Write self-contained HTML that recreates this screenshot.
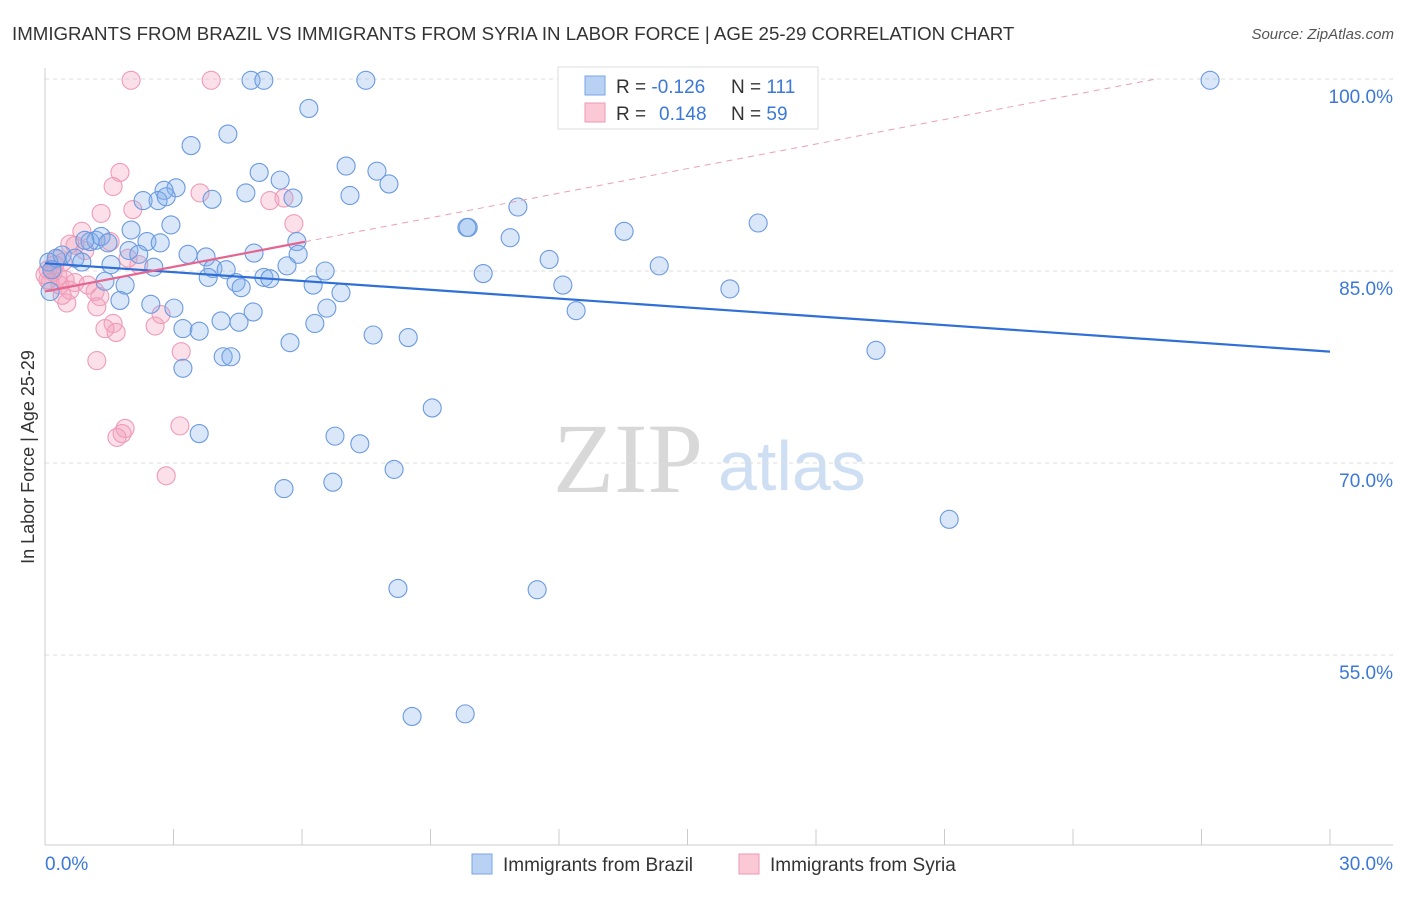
<!DOCTYPE html>
<html><head><meta charset="utf-8"><style>
body{margin:0;background:#fff;font-family:"Liberation Sans",sans-serif}
svg text{font-family:"Liberation Sans",sans-serif}
</style></head><body>
<svg id="chart" width="1406" height="892">
<text x="12" y="40" font-size="18.7" fill="#333">IMMIGRANTS FROM BRAZIL VS IMMIGRANTS FROM SYRIA IN LABOR FORCE | AGE 25-29 CORRELATION CHART</text>
<text x="1394" y="39" font-size="15" fill="#555" font-style="italic" text-anchor="end">Source: ZipAtlas.com</text>
<text transform="translate(34,457) rotate(-90)" font-size="18" fill="#333" text-anchor="middle">In Labor Force | Age 25-29</text>
<text x="553" y="492" font-size="100" fill="#d8d8d8" style="font-family:'Liberation Serif',serif">ZIP</text>
<text x="718" y="490" font-size="70" fill="#cfdff3">atlas</text>
<g id="grid"></g><g id="axes"></g><g id="pink"></g><g id="blue"></g><g id="trends"></g>
<g>
<rect x="558" y="67" width="260" height="62" fill="#fff" stroke="#ddd"/>
<rect x="585" y="76" width="20" height="19" fill="#b9d2f3" stroke="#7aa6e6"/>
<rect x="585" y="103" width="20" height="19" fill="#fbc8d6" stroke="#ee9ab5"/>
<text x="616" y="93" font-size="19" fill="#333">R = <tspan fill="#3b78d8">-0.126</tspan></text>
<text x="731" y="93" font-size="19" fill="#333">N = <tspan fill="#3b78d8">111</tspan></text>
<text x="616" y="120" font-size="19" fill="#333">R = <tspan fill="#3b78d8" x="659">0.148</tspan></text>
<text x="731" y="120" font-size="19" fill="#333">N = <tspan fill="#3b78d8">59</tspan></text>
</g>
<g>
<rect x="472" y="854" width="20" height="20" fill="#b9d2f3" stroke="#7aa6e6"/>
<text x="503" y="871" font-size="19" fill="#333">Immigrants from Brazil</text>
<rect x="739" y="854" width="20" height="20" fill="#fbc8d6" stroke="#ee9ab5"/>
<text x="770" y="871" font-size="19" fill="#333">Immigrants from Syria</text>
</g>
</svg>
<script>
const yTicks=[100,85,70,55];
const yTickLabels=["100.0%","85.0%","70.0%","55.0%"];
const xTicks=[0,3,6,9,12,15,18,21,24,27,30];
const blueX=[4.81,5.11,7.49,27.2,6.16,4.27,3.41,7.03,7.75,5.0,5.49,8.03,3.06,2.78,4.69,2.29,2.64,2.83,3.9,5.79,7.12,11.04,9.88,9.85,13.52,16.65,2.94,10.86,2.01,2.38,2.69,1.19,1.05,1.31,0.93,1.47,5.88,4.88,3.34,3.76,1.96,2.19,5.91,0.40,0.70,0.09,0.26,0.86,1.54,2.54,3.92,4.23,5.65,6.54,11.77,14.34,10.23,3.81,4.46,4.58,5.11,5.25,6.26,6.91,12.09,15.99,1.40,1.87,0.12,0.16,1.75,2.47,3.01,4.86,6.58,12.4,3.22,3.6,4.11,4.53,6.3,7.66,8.48,5.72,19.4,4.16,4.34,3.22,9.04,3.6,6.77,7.35,8.15,5.58,6.72,21.11,8.24,11.49,8.57,9.81];
const blueY=[99.9,99.9,99.9,99.9,97.7,95.7,94.8,93.2,92.8,92.7,92.1,91.8,91.5,91.3,91.1,90.5,90.5,90.8,90.6,90.7,90.9,90.0,88.4,88.4,88.1,88.75,88.6,87.6,88.2,87.3,87.2,87.4,87.3,87.7,87.4,87.2,87.3,86.4,86.3,86.1,86.6,86.3,86.3,86.25,86.0,85.7,86.0,85.7,85.5,85.3,85.2,85.1,85.4,85.0,85.9,85.4,84.8,84.5,84.1,83.7,84.5,84.4,83.9,83.3,83.9,83.6,84.2,83.9,83.4,85.1,82.7,82.4,82.1,81.8,82.1,81.9,80.5,80.3,81.1,81.0,80.9,80.0,79.8,79.4,78.8,78.3,78.3,77.4,74.3,72.3,72.1,71.5,69.5,68.0,68.5,65.6,60.2,60.1,50.2,50.4];
const pinkX=[2.01,3.88,1.75,1.59,3.62,5.25,5.58,2.05,1.31,5.81,0.86,0.58,1.52,0.70,0.93,0.28,0.42,1.94,2.19,0.07,0.19,0.30,0.47,0.70,1.0,0.12,0.35,0.58,1.17,1.28,0.51,1.21,1.59,1.40,1.66,2.57,2.71,3.18,1.21,1.87,1.80,1.68,3.15,2.83,0.23,0.0,0.07,0.40];
const pinkY=[99.9,99.9,92.7,91.6,91.1,90.5,90.7,89.8,89.5,88.7,88.1,87.1,87.3,87.0,86.6,85.9,85.7,86.0,85.5,85.1,84.9,84.6,84.3,84.1,83.9,84.1,83.9,83.5,83.4,83.0,82.5,82.2,80.9,80.5,80.2,80.7,81.6,78.7,78.0,72.7,72.3,72.0,72.9,69.0,85.5,84.7,84.3,83.1];
const blueTrend=[85.6,78.7];
const pinkTrend=[83.4,0.64];
const NS="http://www.w3.org/2000/svg";
const X=v=>45+v/30*1285, Y=v=>79+(100-v)*12.8;
function mk(tag,parent,attrs){const e=document.createElementNS(NS,tag);for(const k in attrs)e.setAttribute(k,attrs[k]);document.getElementById(parent).appendChild(e);return e;}
yTicks.forEach((t,i)=>{
 const l=mk('line','grid',{x1:45,x2:1393,y1:Y(t),y2:Y(t),stroke:'#ddd','stroke-dasharray':'4,4'});
 
 
 const tx=mk('text','grid',{x:1393,y:Y(t)+24,'font-size':19,fill:'#3b78d8','text-anchor':'end'});
 tx.textContent=yTickLabels[i];
 
 
});
const ax=mk('line','axes',{x1:45,x2:45,y1:68,y2:845,stroke:'#ccc'});


const bx=mk('line','axes',{x1:45,x2:1393,y1:845,y2:845,stroke:'#ccc'});


xTicks.forEach(t=>{const l=mk('line','axes',{x1:X(t),x2:X(t),y1:829,y2:845,stroke:'#ccc'});
 
 });
const x0=mk('text','axes',{x:45,y:870,'font-size':19,fill:'#3b78d8'});x0.textContent='0.0%';


const x1=mk('text','axes',{x:1393,y:870,'font-size':19,fill:'#3b78d8','text-anchor':'end'});x1.textContent='30.0%';


pinkX.forEach((v,i)=>{const c=mk('circle','pink',{cx:X(v),cy:Y(pinkY[i]),r:9,fill:'rgba(244,160,188,0.33)',stroke:'#ef9bb7','stroke-width':1.1});
 
 });
blueX.forEach((v,i)=>{const c=mk('circle','blue',{cx:X(v),cy:Y(blueY[i]),r:9,fill:'rgba(130,175,235,0.3)',stroke:'#6b9ae0','stroke-width':1.1});
 
 });
const bt=mk('line','trends',{x1:X(0),y1:Y(blueTrend[0]),x2:X(30),y2:Y(blueTrend[1]),stroke:'#2f6fd6','stroke-width':2.2});


const pe=(100-pinkTrend[0])/pinkTrend[1];
const pd=mk('line','trends',{x1:X(6.07),y1:Y(pinkTrend[0]+6.07*pinkTrend[1]),x2:X(pe),y2:Y(100),stroke:'#e9a0b8','stroke-width':1,'stroke-dasharray':'6,5'});


const pt=mk('line','trends',{x1:X(0),y1:Y(pinkTrend[0]),x2:X(6.07),y2:Y(pinkTrend[0]+6.07*pinkTrend[1]),stroke:'#e4658f','stroke-width':2.2});


</script>
</body></html>
